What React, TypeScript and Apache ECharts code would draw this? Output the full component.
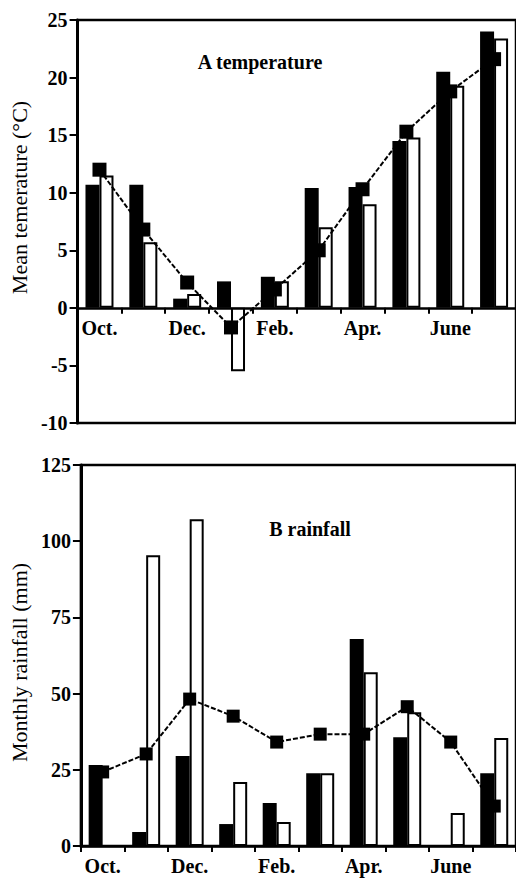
import React, { useEffect, useRef } from 'react';
import * as echarts from 'echarts';

const months = ['Oct.', 'Nov.', 'Dec.', 'Jan.', 'Feb.', 'Mar.', 'Apr.', 'May', 'June', 'July'];

const tempBlack = [10.7, 10.7, 0.8, 2.3, 2.7, 10.4, 10.5, 14.5, 20.5, 24.0];
const tempWhite = [11.5, 5.7, 1.2, -5.5, 2.3, 7.0, 9.0, 14.8, 19.3, 23.4];
const tempMean = [12.0, 6.8, 2.2, -1.7, 1.6, 5.0, 10.3, 15.3, 18.8, 21.6];

const rainBlack = [26.6, 4.6, 29.5, 7.2, 14.1, 23.9, 67.9, 35.7, 0, 23.9];
const rainWhite = [0, 95.4, 107.2, 21.0, 7.9, 23.9, 57.0, 43.9, 10.8, 35.4];
const rainMean = [24.3, 30.2, 48.2, 42.6, 34.1, 36.7, 36.7, 45.7, 34.1, 13.1];

const tempMin = -10;
const tempMax = 25;
const rainMin = 0;
const rainMax = 125;

const FONT = 'Liberation Serif';
const BLACK = '#000';

const G0 = { left: 71, top: 20, width: 450, height: 403 };
const G1 = { left: 77, top: 465, width: 444, height: 381 };

function xAxisFor(gridIndex: number, offset: number) {
  return {
    gridIndex,
    type: 'category',
    data: months,
    position: 'bottom',
    offset,
    axisLine: { onZero: false, lineStyle: { color: BLACK, width: 2.5 } },
    axisTick: { show: true, interval: 0, length: 6, lineStyle: { color: BLACK, width: 2 } },
    axisLabel: {
      interval: 1,
      margin: 10,
      color: BLACK,
      fontFamily: FONT,
      fontWeight: 'bold',
      fontSize: 20,
    },
    splitLine: { show: false },
  };
}

function yAxisFor(
  gridIndex: number,
  min: number,
  max: number,
  interval: number,
  name: string,
  nameGap: number,
  padding: number[],
) {
  return {
    gridIndex,
    type: 'value',
    min,
    max,
    interval,
    splitLine: { show: false },
    axisLine: { show: true, onZero: false, lineStyle: { color: BLACK, width: 3 } },
    axisTick: { show: true, length: 8, lineStyle: { color: BLACK, width: 2 } },
    axisLabel: { margin: 10, color: BLACK, fontFamily: FONT, fontWeight: 'bold', fontSize: 20 },
    name,
    nameLocation: 'middle',
    nameRotate: 90,
    nameGap,
    nameTextStyle: { color: BLACK, fontFamily: FONT, fontSize: 22, padding },
  };
}

function barsAndLine(idx: number, black: number[], white: number[], mean: number[], symbolSize: number) {
  return [
    {
      type: 'bar',
      xAxisIndex: idx,
      yAxisIndex: idx,
      data: black,
      barWidth: 14,
      barGap: '0%',
      itemStyle: { color: BLACK },
      z: 2,
    },
    {
      type: 'bar',
      xAxisIndex: idx,
      yAxisIndex: idx,
      data: white,
      barWidth: 14,
      barGap: '0%',
      itemStyle: { color: '#fff', borderColor: BLACK, borderWidth: 2 },
      z: 2,
    },
    {
      type: 'line',
      xAxisIndex: idx,
      yAxisIndex: idx,
      data: mean,
      symbol: 'rect',
      symbolSize,
      itemStyle: { color: BLACK },
      lineStyle: { color: BLACK, width: 2, type: [5, 2] },
      z: 5,
    },
  ];
}

export default function App() {
  const ref = useRef<HTMLDivElement>(null);
  useEffect(() => {
    const chart = echarts.init(ref.current!, null, { renderer: 'svg' });
    // place the top chart's category axis on the zero line
    const zeroOffset0 = -G0.height * (0 - tempMin) / (tempMax - tempMin);
    const option: any = {
      animation: false,
      backgroundColor: '#fff',
      grid: [
        { ...G0, show: true, borderColor: BLACK, borderWidth: 2.5, backgroundColor: 'transparent' },
        { ...G1, show: true, borderColor: BLACK, borderWidth: 2.5, backgroundColor: 'transparent' },
      ],
      xAxis: [xAxisFor(0, zeroOffset0), xAxisFor(1, 0)],
      yAxis: [
        yAxisFor(0, tempMin, tempMax, 5, 'Mean temerature (°C)', 39, [0, 0, 0, 48]),
        yAxisFor(1, rainMin, rainMax, 25, 'Monthly rainfall (mm)', 45, [0, 14, 0, 0]),
      ],
      graphic: [
        {
          type: 'text',
          x: 260,
          y: 62,
          style: {
            text: 'A temperature',
            textAlign: 'center',
            textVerticalAlign: 'middle',
            fontFamily: FONT,
            fontWeight: 'bold',
            fontSize: 20,
            fill: BLACK,
          },
        },
        {
          type: 'text',
          x: 310,
          y: 529,
          style: {
            text: 'B rainfall',
            textAlign: 'center',
            textVerticalAlign: 'middle',
            fontFamily: FONT,
            fontWeight: 'bold',
            fontSize: 20,
            fill: BLACK,
          },
        },
      ],
      series: [
        ...barsAndLine(0, tempBlack, tempWhite, tempMean, 14),
        ...barsAndLine(1, rainBlack, rainWhite, rainMean, 13),
      ],
    };
    chart.setOption(option);
    return () => chart.dispose();
  }, []);
  return (
    <div
      ref={ref}
      style={{ position: 'fixed', left: 0, top: 0, width: 516, height: 879, background: '#fff' }}
    />
  );
}
